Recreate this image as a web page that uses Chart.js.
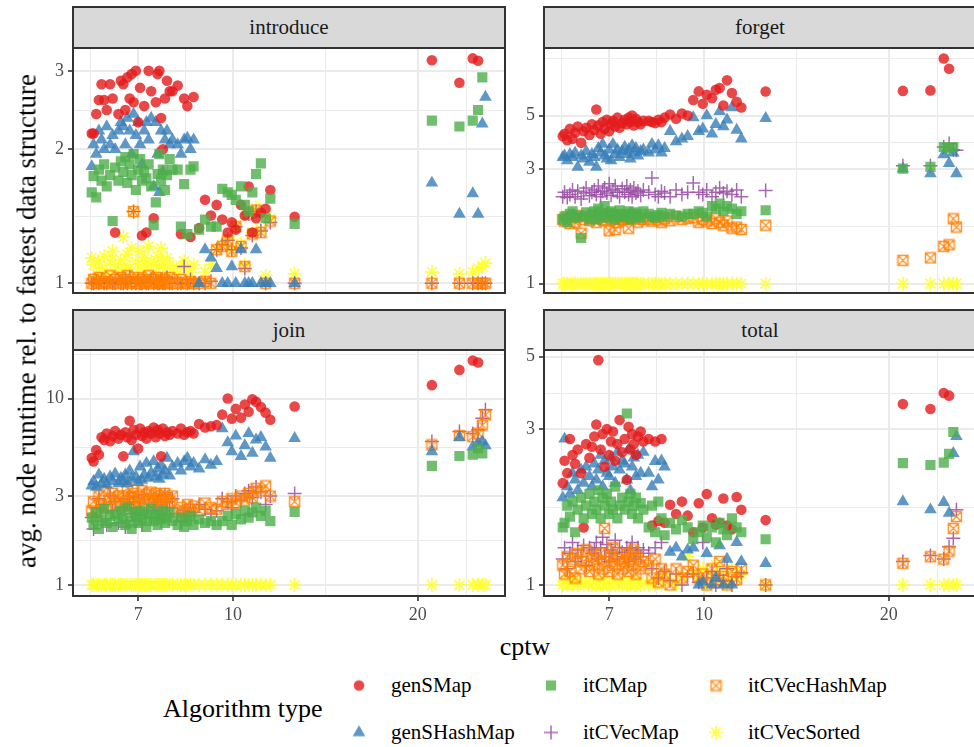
<!DOCTYPE html>
<html>
<head>
<meta charset="utf-8">
<title>avg. node runtime vs cptw</title>
<script src="https://cdn.jsdelivr.net/npm/chart.js@4.4.1/dist/chart.umd.min.js"></script>
<style>
  html, body { margin: 0; padding: 0; background: #fff; overflow: hidden; }
  body { position: relative; width: 974px; height: 747px; font-family: 'Liberation Serif', serif; }
  canvas.panel { position: absolute; }
  .strip { position: absolute; box-sizing: border-box; width: 434px; background: #d9d9d9;
           border: 2px solid #333; color: #1a1a1a; font-size: 21px; text-align: center; }
  .frame { position: absolute; box-sizing: border-box; width: 434px; border: 2px solid #333; pointer-events: none; }
  #ytitle { position: absolute; left: 27px; top: 321px; transform: translate(-50%, -50%) rotate(-90deg);
            white-space: nowrap; font-size: 27px; color: #000; }
  #xtitle { position: absolute; left: 525px; top: 647px; transform: translate(-50%, -50%); font-size: 26px; color: #000; }
  #ltitle { position: absolute; left: 163px; top: 709px; transform: translateY(-50%); font-size: 26px; color: #000; white-space: nowrap; }
  .lkey { position: absolute; display: flex; align-items: center; transform: translateY(-50%); font-size: 21px; color: #000; white-space: nowrap; }
  .lkey canvas { margin-right: 20px; }
</style>
</head>
<body>

<div class="strip" style="left:72px; top:6px; height:43px; line-height:39px;">introduce</div>
<div class="strip" style="left:543px; top:6px; height:43px; line-height:39px;">forget</div>
<div class="strip" style="left:72px; top:309px; height:42px; line-height:38px;">join</div>
<div class="strip" style="left:543px; top:309px; height:42px; line-height:38px;">total</div>

<canvas class="panel" id="introduce"></canvas>
<canvas class="panel" id="forget"></canvas>
<canvas class="panel" id="join"></canvas>
<canvas class="panel" id="total"></canvas>

<div class="frame" style="left:72px; top:47px; height:247px;"></div>
<div class="frame" style="left:543px; top:47px; height:247px;"></div>
<div class="frame" style="left:72px; top:349px; height:248px;"></div>
<div class="frame" style="left:543px; top:349px; height:248px;"></div>

<div id="ytitle">avg. node runtime rel. to fastest data structure</div>
<div id="xtitle">cptw</div>
<div id="ltitle">Algorithm type</div>
<div id="legend"></div>

<script>
'use strict';

// cptw of every benchmark instance (same instances in every panel)
const cptw = [
  5.88, 5.92, 5.98, 6.04, 6.1, 6.16, 6.22, 6.3, 6.36, 6.42, 6.5, 6.56,
  6.62, 6.67, 6.72, 6.78, 6.83, 6.88, 6.94, 7.0, 7.05, 7.1, 7.16, 7.22, 7.28, 7.35,
  7.42, 7.48, 7.53, 7.58, 7.63, 7.68, 7.74, 7.8, 7.88, 7.96,
  8.12, 8.22, 8.32, 8.42, 8.52, 8.62, 8.8, 9.0, 9.2, 9.4,
  9.6, 9.8, 9.95, 10.1, 10.3, 10.45, 10.6, 10.75, 10.9, 11.1, 11.3, 11.5,
  12.6,
  21.1, 23.4, 24.6, 25.1, 25.5, 25.8
];

// introduce
const introduceGenSMap = [
  2.17, 2.17, 2.4, 2.58, 2.8, 2.58, 2.45, 2.8, 2.6, 1.3, 2.4, 2.85,
  2.8, 2.45, 2.9, 2.6, 2.95, 2.55, 3.0, 2.3, 2.75, 1.28, 2.5, 1.3, 3.0, 2.7,
  1.4, 2.55, 2.95, 3.0, 2.35, 2.0, 2.6, 2.85, 2.7, 2.7,
  2.78, 1.29, 2.6, 2.5, 1.27, 2.62, 1.33, 1.54, 1.42, 1.5,
  1.39, 1.3, 1.37, 1.32, 1.5, 1.42, 1.65, 1.3, 1.4, 1.44, 1.47, 1.62,
  1.41,
  3.17, 2.82, 3.2, 3.16, null, null
];
const introduceGenSHashMap = [
  1.83, 2.05, 1.95, 2.2, 2.1, 2.0, 2.25, 2.05, 2.15, 2.0, 2.2, 2.3,
  2.25, 2.05, 2.35, 2.2, 1.95, 2.4, 2.15, 2.3, 2.05, 1.85, 2.2, 2.3, 2.1, 2.35,
  1.65, 2.3, 1.95, 1.6, 2.2, 1.78, 2.1, 2.2, 2.05, 2.1,
  2.05, 1.95, 2.1, 2.12, 2.0, 2.1, 1.0, 1.19, 1.14, 1.08,
  1.0, 1.0, 1.09, 1.0, 1.19, 1.0, 1.0, 1.0, 1.19, 1.0, 1.0, 1.0,
  1.0,
  1.68, 1.43, 1.59, 1.43, 2.28, 2.62
];
const introduceItCMap = [
  1.6, 1.74, 1.56, 1.8, 1.7, 1.85, 1.65, 1.75, 1.38, 1.82, 1.7, 1.88,
  1.78, 1.92, 1.68, 1.85, 1.75, 1.95, 1.62, 1.8, 1.9, 1.7, 1.78, 1.72, 1.85, 1.65,
  1.35, 1.52, 1.76, 1.95, 1.7, 1.8, 1.62, 1.75, 1.9, 1.8,
  1.8, 1.34, 1.67, 1.29, 1.8, 1.83, 1.32, 1.39, 1.34, 1.34,
  1.63, 1.6, 1.58, 1.54, 1.65, 1.5, 1.45, 1.6, 1.76, 1.86, 1.4, 1.55,
  1.36,
  2.32, 2.25, 2.32, 2.45, 2.9, null
];
const introduceItCVecMap = [
  1.0, 1.0, 1.01, 1.0, 1.02, 1.0, 1.0, 1.01, 1.0, 1.0, 1.02, 1.0,
  1.0, 1.01, 1.0, 1.03, 1.0, 1.45, 1.0, 1.02, 1.0, 1.0, 1.01, 1.0, 1.0, 1.02,
  1.0, 1.01, 1.0, 1.0, 1.02, 1.0, 1.0, 1.03, 1.0, 1.0,
  1.0, 1.0, 1.09, 1.0, 1.02, 1.0, 1.0, 1.0, 1.01, 1.19,
  1.22, 1.25, 1.19, 1.34, 1.2, 1.08, 1.43, 1.28, 1.45, 1.31, 1.0, 1.37,
  1.0,
  1.0, 1.0, 1.0, 1.0, 1.0, 1.0
];
const introduceItCVecHashMap = [
  1.0, 1.02, 1.0, 1.03, 1.0, 1.01, 1.0, 1.04, 1.0, 1.02, 1.0, 1.03,
  1.0, 1.02, 1.04, 1.0, 1.01, 1.45, 1.0, 1.03, 1.0, 1.02, 1.0, 1.01, 1.04, 1.0,
  1.02, 1.0, 1.03, 1.0, 1.01, 1.0, 1.02, 1.0, 1.03, 1.0,
  1.0, 1.02, 1.0, 1.0, 1.01, 1.0, 1.0, 1.01, 1.0, 1.19,
  1.21, 1.25, 1.18, 1.34, 1.21, 1.09, 1.43, 1.29, 1.46, 1.3, 1.0, 1.38,
  1.0,
  1.0, 1.0, 1.0, 1.0, 1.0, 1.0
];
const introduceItCVecSorted = [
  1.14, 1.1, 1.05, 1.12, 1.08, 1.15, 1.06, 1.12, 1.18, 1.1, 1.07, 1.13,
  1.27, 1.1, 1.16, 1.08, 1.2, 1.45, 1.12, 1.06, 1.18, 1.1, 1.14, 1.08, 1.21, 1.12,
  1.1, 1.05, 1.15, 1.09, 1.2, 1.12, 1.06, 1.14, 1.1, 1.08,
  1.05, 1.09, 1.12, 1.08, 1.06, 1.1, 1.0, 1.06, 1.1, 1.19,
  1.22, 1.26, 1.19, 1.35, 1.23, 1.1, 1.45, 1.3, 1.48, 1.32, 1.04, 1.4,
  1.05,
  1.06, 1.05, 1.06, 1.08, 1.09, 1.11
];

// forget
const forgetGenSMap = [
  4.1, 4.2, 3.95, 4.4, 4.0, 4.25, 4.5, 3.85, 4.3, 4.45, 4.15, 4.6,
  4.35, 5.3, 4.55, 4.2, 4.7, 4.4, 4.8, 4.3, 4.6, 4.75, 4.5, 4.9, 4.45, 4.65,
  4.8, 4.6, 4.9, 4.7, 5.0, 4.55, 4.85, 4.7, 4.6, 4.75,
  4.75, 4.7, 4.65, 4.8, 4.7, 4.9, 5.05, 4.85, 5.1, 5.0,
  5.8, 6.3, 5.6, 6.1, 5.9, 6.4, 6.5, 5.5, 7.0, 6.2, 5.7, 5.4,
  6.29,
  6.33, 6.36, 8.63, 7.82, null, null
];
const forgetGenSHashMap = [
  3.35, 3.4, 3.25, 3.45, 3.35, 3.5, 3.05, 3.4, 3.3, 3.55, 3.2, 3.45,
  3.35, 3.05, 3.65, 3.5, 3.8, 3.4, 3.3, 3.6, 3.25, 3.8, 3.45, 3.6, 3.35, 3.55,
  3.7, 3.45, 3.6, 3.3, 3.75, 3.5, 3.65, 3.4, 3.55, 3.6,
  3.5, 3.8, 3.6, 3.75, 3.5, 3.65, 4.3, 3.9, 4.0, 4.1,
  4.9, 4.3, 4.4, 5.0, 4.2, 4.6, 5.2, 4.5, 4.8, 5.4, 4.35, 4.0,
  4.87,
  3.0, 2.87, 3.44, 3.16, 3.5, 2.87
];
const forgetItCMap = [
  1.85, 1.9, 1.8, 1.95, 2.0, 1.88, 1.92, 1.55, 1.9, 1.98, 1.85, 1.95,
  2.0, 1.85, 2.05, 1.9, 1.95, 2.1, 1.88, 1.97, 2.0, 1.9, 1.85, 1.95, 2.02, 1.9,
  1.9, 1.95, 2.0, 1.85, 1.92, 1.98, 1.9, 1.95, 1.88, 2.0,
  1.95, 1.9, 1.88, 1.93, 1.97, 1.9, 1.95, 1.92, 1.9, 1.95,
  1.95, 2.0, 1.97, 1.9, 2.1, 2.05, 2.15, 2.0, 2.1, 2.05, 1.95, 2.0,
  2.02,
  3.01, 3.06, 3.7, 3.65, 3.7, null
];
const forgetItCVecMap = [
  2.3, 2.4, 2.28, 2.35, 2.45, 2.3, 2.42, 2.25, 2.38, 2.5, 2.32, 2.4,
  2.45, 2.35, 2.55, 2.3, 2.42, 2.5, 2.38, 2.6, 2.33, 2.45, 2.55, 2.4, 2.3, 2.48,
  2.4, 2.55, 2.35, 2.45, 2.3, 2.5, 2.38, 2.42, 2.33, 2.45,
  2.4, 2.75, 2.35, 2.3, 2.42, 2.38, 2.3, 2.45, 2.35, 2.4,
  2.62, 2.4, 2.35, 2.45, 2.3, 2.4, 2.5, 2.38, 2.42, 2.35, 2.45, 2.3,
  2.44,
  3.09, 3.09, 3.7, 3.83, 3.6, 3.59
];
const forgetItCVecHashMap = [
  1.85, 1.82, 1.9, 1.78, 1.88, 1.8, 1.92, 1.62, 1.85, 1.9, 1.83, 1.87,
  1.9, 1.8, 1.88, 1.95, 1.85, 1.83, 1.9, 1.66, 1.87, 1.92, 1.68, 1.8, 1.88, 1.85,
  1.9, 1.84, 1.7, 1.88, 1.92, 1.86, 1.9, 1.8, 1.87, 1.85,
  1.85, 1.82, 1.88, 1.84, 1.8, 1.86, 1.83, 1.9, 1.85, 1.87,
  1.88, 1.8, 1.85, 1.82, 1.78, 1.86, 1.8, 1.75, 1.82, 1.7, 1.72, 1.68,
  1.75,
  1.25, 1.28, 1.43, 1.45, 1.86, 1.72
];
const forgetItCVecSorted = [
  1, 1, 1, 1, 1, 1, 1, 1, 1, 1, 1, 1,
  1, 1, 1, 1, 1, 1, 1, 1, 1, 1, 1, 1, 1, 1,
  1, 1, 1, 1, 1, 1, 1, 1, 1, 1,
  1, 1, 1, 1, 1, 1, 1, 1, 1, 1,
  1, 1, 1, 1, 1, 1, 1, 1, 1, 1, 1, 1,
  1,
  1, 1, 1, 1, 1, 1
];

// join
const joinGenSMap = [
  4.8, 4.6, 5.3, 5.0, 6.2, 6.0, 6.5, 5.9, 6.3, 6.7, 6.1, 6.4,
  4.9, 6.6, 6.2, 7.6, 6.0, 6.8, 6.4, 5.4, 6.9, 6.3, 6.6, 6.1, 6.7, 6.5,
  7.0, 6.2, 6.8, 6.5, 4.9, 6.9, 6.3, 6.6, 6.4, 6.7,
  6.5, 6.9, 6.4, 6.6, 6.7, 6.5, 7.3, 7.0, 7.1, 7.2,
  8.2, 10.0, 7.8, 8.8, 7.9, 9.3, 8.5, 9.9, 9.6, 9.0, 8.4, 7.7,
  9.06,
  11.8, 14.25, 16.0, 15.6, null, null
];
const joinGenSHashMap = [
  3.4, 3.6, 3.35, 3.9, 3.5, 3.7, 3.45, 3.8, 3.6, 3.95, 3.5, 3.75,
  3.6, 3.9, 3.5, 4.1, 3.7, 5.2, 3.8, 3.55, 4.3, 3.65, 3.9, 4.5, 3.75, 4.0,
  4.6, 3.8, 4.2, 3.7, 4.4, 3.9, 4.1, 4.8, 3.85, 4.3,
  4.5, 4.1, 4.6, 4.8, 4.3, 4.5, 4.2, 4.7, 4.4, 4.6,
  6.9, 5.8, 5.2, 6.3, 4.9, 5.6, 6.5, 5.1, 6.0, 6.2, 5.5, 4.8,
  6.12,
  5.19, 6.2, 5.5, 5.76, 5.87, 5.6
];
const joinItCMap = [
  2.3, 2.1, 2.45, 2.0, 2.25, 2.55, 2.15, 2.35, 2.05, 2.4, 2.2, 2.5,
  2.3, 2.1, 2.6, 2.2, 2.0, 2.45, 2.35, 2.15, 2.5, 2.25, 2.4, 2.05, 2.3, 2.55,
  2.2, 2.4, 2.1, 2.35, 2.25, 2.5, 2.15, 2.3, 2.45, 2.2,
  2.1, 2.3, 2.05, 2.2, 2.35, 2.1, 2.25, 2.15, 2.2, 2.1,
  2.2, 2.35, 2.1, 2.4, 2.25, 2.5, 2.3, 2.45, 2.6, 2.35, 2.5, 2.2,
  2.47,
  4.35, 4.92, 5.0, 5.4, 5.08, null
];
const joinItCVecMap = [
  2.3, 2.0, 2.6, 2.9, 2.2, 2.7, 2.1, 3.0, 2.5, 2.8, 2.15, 2.6,
  2.9, 2.05, 2.7, 3.0, 2.4, 2.8, 2.2, 2.95, 2.6, 2.1, 3.05, 2.5, 2.75, 2.3,
  2.9, 2.6, 2.8, 3.0, 2.7, 2.5, 3.05, 2.8, 2.6, 2.9,
  2.4, 2.2, 2.5, 2.35, 2.6, 2.45, 2.7, 2.55, 2.4, 2.5,
  2.9, 2.8, 2.6, 3.0, 2.85, 3.1, 3.2, 2.95, 3.35, 3.15, 2.7, 3.0,
  3.1,
  5.88, 6.65, 6.5, 6.8, 7.83, 8.7
];
const joinItCVecHashMap = [
  2.5, 2.8, 2.4, 3.0, 2.7, 3.2, 2.6, 2.9, 3.1, 2.75, 3.0, 2.65,
  3.0, 2.8, 3.3, 2.7, 2.95, 3.1, 2.6, 3.0, 2.85, 3.2, 2.75, 3.05, 2.9, 3.15,
  2.8, 3.1, 2.7, 3.0, 2.9, 2.75, 3.1, 2.95, 2.8, 3.0,
  2.5, 2.6, 2.45, 2.7, 2.55, 2.65, 2.5, 2.75, 2.6, 2.55,
  2.8, 2.7, 2.9, 2.75, 3.0, 2.85, 3.1, 2.95, 3.3, 3.2, 3.4, 3.0,
  2.8,
  5.64, 6.33, 6.25, 6.52, 7.2, 8.17
];
const joinItCVecSorted = [
  1, 1, 1, 1, 1, 1, 1, 1, 1, 1, 1, 1,
  1, 1, 1, 1, 1, 1, 1, 1, 1, 1, 1, 1, 1, 1,
  1, 1, 1, 1, 1, 1, 1, 1, 1, 1,
  1, 1, 1, 1, 1, 1, 1, 1, 1, 1,
  1, 1, 1, 1, 1, 1, 1, 1, 1, 1, 1, 1,
  1,
  1, 1, 1, 1, 1, 1
];

// total
const totalGenSMap = [
  2.05, 2.4, 2.2, 2.8, 2.5, 2.35, 2.6, 2.2, 1.5, 2.7, 2.45, 2.65,
  2.85, 3.1, 4.88, 2.6, 2.9, 2.3, 3.0, 2.5, 2.75, 2.95, 2.4, 2.7, 3.2, 2.55,
  2.8, 2.1, 3.05, 2.6, 2.9, 2.7, 2.5, 2.85, 2.95, 2.75,
  2.8, 1.52, 2.75, 1.57, 2.8, 1.55, 1.76, 1.65, 1.8, 1.63,
  1.45, 1.78, 1.5, 1.9, 1.6, 1.53, 1.55, 1.84, 1.52, 1.48, 1.86, 1.7,
  1.58,
  3.58, 3.46, 3.87, 3.8, null, null
];
const totalGenSHashMap = [
  1.85, 2.8, 2.0, 1.9, 2.2, 2.1, 1.95, 2.25, 2.05, 2.3, 2.15, 2.0,
  2.35, 2.1, 2.25, 2.5, 2.0, 2.4, 2.2, 2.15, 2.45, 2.3, 2.05, 2.55, 2.25, 2.4,
  2.35, 2.1, 2.6, 1.95, 2.3, 2.45, 2.15, 2.5, 2.2, 2.55,
  2.2, 2.0, 2.39, 2.1, 2.4, 2.3, 1.26, 1.3, 1.22, 1.28,
  1.3, 1.0, 1.02, 1.25, 1.0, 1.05, 1.32, 1.0, 1.2, 1.0, 1.35, 1.18,
  1.165,
  1.8, 1.7, 1.79, 1.66, 2.53, 2.85
];
const totalItCMap = [
  1.5, 1.55, 1.75, 1.62, 1.8, 1.45, 1.7, 1.85, 1.6, 1.75, 1.9, 1.65,
  1.8, 1.7, 1.95, 1.6, 1.85, 1.75, 1.9, 1.65, 1.8, 1.7, 2.0, 1.6, 1.75, 1.85,
  1.7, 3.35, 1.8, 1.9, 1.65, 1.75, 1.85, 1.6, 1.78, 1.7,
  1.5, 1.75, 1.45, 1.8, 1.6, 1.42, 1.55, 1.48, 1.58, 1.5,
  1.38, 1.45, 1.52, 1.4, 1.5, 1.35, 1.55, 1.48, 1.42, 1.6, 1.5, 1.45,
  1.38,
  2.36, 2.33, 2.37, 2.52, 2.94, null
];
const totalItCVecMap = [
  1.2, 1.3, 1.12, 1.25, 1.35, 1.18, 1.28, 1.22, 1.32, 1.15, 1.3, 1.25,
  1.28, 1.35, 1.2, 1.3, 1.4, 1.22, 1.33, 1.18, 1.28, 1.25, 1.37, 1.2, 1.3, 1.26,
  1.22, 1.3, 1.18, 1.28, 1.35, 1.2, 1.25, 1.3, 1.22, 1.28,
  1.25, 1.12, 1.3, 1.05, 1.35, 1.1, 1.03, 1.08, 1.0, 1.06,
  1.08, 1.02, 1.35, 1.05, 1.1, 1.0, 1.07, 1.03, 1.12, 1.0, 1.06, 1.09,
  1.0,
  1.18, 1.23, 1.2, 1.31, 1.39, 1.7
];
const totalItCVecHashMap = [
  1.15, 1.08, 1.22, 1.1, 1.2, 1.05, 1.25, 1.12, 1.18, 1.28, 1.1, 1.22,
  1.15, 1.2, 1.08, 1.25, 1.12, 1.49, 1.18, 1.1, 1.22, 1.3, 1.15, 1.08, 1.2, 1.12,
  1.18, 1.25, 1.1, 1.2, 1.15, 1.28, 1.08, 1.22, 1.12, 1.18,
  1.15, 1.05, 1.2, 1.02, 1.12, 1.08, 1.0, 1.12, 1.05, 1.1,
  1.15, 1.05, 1.08, 1.0, 1.12, 1.02, 1.18, 1.06, 1.0, 1.1, 1.04, 1.12,
  1.0,
  1.165, 1.22, 1.2, 1.27, 1.49, 1.62
];
const totalItCVecSorted = [
  1.0, 1.02, 1.0, 1.01, 1.0, 1.03, 1.0, 1.01, 1.0, 1.02, 1.0, 1.0,
  1.01, 1.0, 1.02, 1.0, 1.0, 1.03, 1.0, 1.01, 1.0, 1.02, 1.0, 1.01, 1.0, 1.0,
  1.02, 1.0, 1.01, 1.0, 1.03, 1.0, 1.0, 1.02, 1.0, 1.01,
  1.0, 1.02, 1.0, 1.05, 1.0, 1.08, 1.03, 1.0, 1.06, 1.22,
  1.1, 1.05, 1.12, 1.0, 1.08, 1.15, 1.03, 1.1, 1.0, 1.12, 1.05, 1.08,
  1.0,
  1.0, 1.0, 1.0, 1.0, 1.0, 1.0
];

// axis breaks
const xTicks = [7, 10, 20];
const xMinorTicks = [5.85, 8.37, 14.14, 24];
const introduceTicks = [1, 2, 3];
const introduceMinorTicks = [1.41, 2.45];
const forgetTicks = [1, 3, 5];
const forgetMinorTicks = [1.73, 3.87, 8.66];
const joinTicks = [1, 3, 10];
const joinMinorTicks = [1.73, 5.48, 17.3];
const totalTicks = [1, 3, 5];
const totalMinorTicks = [1.73, 3.87];

const algorithms = ['genSMap', 'genSHashMap', 'itCMap', 'itCVecMap', 'itCVecHashMap', 'itCVecSorted'];


// square with a cross through it, for itCVecHashMap
function boxCross(color) {
  const c = document.createElement('canvas');
  c.width = 13;
  c.height = 13;
  const g = c.getContext('2d');
  g.strokeStyle = color;
  g.lineWidth = 1.4;
  g.beginPath();
  g.rect(1.5, 1.5, 10, 10);
  g.moveTo(1.5, 1.5);
  g.lineTo(11.5, 11.5);
  g.moveTo(11.5, 1.5);
  g.lineTo(1.5, 11.5);
  g.stroke();
  return c;
}

const none = 'rgba(0,0,0,0)';
const looks = {
  genSMap:       { shape: 'circle',   radius: 5.3, fill: 'rgba(228,26,28,0.8)',  stroke: none, width: 0 },
  genSHashMap:   { shape: 'triangle', radius: 7.3, fill: 'rgba(55,126,184,0.8)', stroke: none, width: 0 },
  itCMap:        { shape: 'rect',     radius: 7.2, fill: 'rgba(77,175,74,0.8)',  stroke: none, width: 0 },
  itCVecMap:     { shape: 'cross',    radius: 7,   fill: none, stroke: 'rgba(152,78,163,0.85)', width: 1.5 },
  itCVecHashMap: { shape: boxCross('rgba(255,127,0,0.85)'), radius: 6.5, fill: none, stroke: none, width: 0 },
  itCVecSorted:  { shape: 'star',     radius: 7,   fill: none, stroke: 'rgba(255,255,51,0.9)', width: 1.7 }
};

// later entries are drawn on top
const drawOrder = ['itCMap', 'genSMap', 'genSHashMap', 'itCVecHashMap', 'itCVecMap', 'itCVecSorted'];

// where each plotting area sits on the page
const plotBoxes = {
  introduce: { left: 73, top: 48, width: 432, height: 245 },
  forget:    { left: 544, top: 48, width: 432, height: 245 },
  join:      { left: 73, top: 350, width: 432, height: 246 },
  total:     { left: 544, top: 350, width: 432, height: 246 }
};

const panels = [
  { id: 'introduce', bottomAxis: false, yMin: 0.95, yMax: 3.38, ticks: introduceTicks, minor: introduceMinorTicks,
    series: { genSMap: introduceGenSMap, genSHashMap: introduceGenSHashMap, itCMap: introduceItCMap,
              itCVecMap: introduceItCVecMap, itCVecHashMap: introduceItCVecHashMap, itCVecSorted: introduceItCVecSorted } },
  { id: 'forget', bottomAxis: false, yMin: 0.913, yMax: 9.56, ticks: forgetTicks, minor: forgetMinorTicks,
    series: { genSMap: forgetGenSMap, genSHashMap: forgetGenSHashMap, itCMap: forgetItCMap,
              itCVecMap: forgetItCVecMap, itCVecHashMap: forgetItCVecHashMap, itCVecSorted: forgetItCVecSorted } },
  { id: 'join', bottomAxis: true, yMin: 0.873, yMax: 18.26, ticks: joinTicks, minor: joinMinorTicks,
    series: { genSMap: joinGenSMap, genSHashMap: joinGenSHashMap, itCMap: joinItCMap,
              itCVecMap: joinItCVecMap, itCVecHashMap: joinItCVecHashMap, itCVecSorted: joinItCVecSorted } },
  { id: 'total', bottomAxis: true, yMin: 0.925, yMax: 5.25, ticks: totalTicks, minor: totalMinorTicks,
    series: { genSMap: totalGenSMap, genSHashMap: totalGenSHashMap, itCMap: totalItCMap,
              itCVecMap: totalItCVecMap, itCVecHashMap: totalItCVecHashMap, itCVecSorted: totalItCVecSorted } }
];

const tickFont = { family: 'Liberation Serif', size: 18 };
const gridGrey = '#ebebeb';

function breaks(major, minor) {
  return major.concat(minor).sort((a, b) => a - b).map(v => ({ value: v }));
}

function isMajor(ctx, major) {
  return !!ctx.tick && major.includes(ctx.tick.value);
}

function panelConfig(panel) {
  let datasets = drawOrder.map(name => {
    let ys = panel.series[name];
    let points = [];
    for (let i = 0; i < cptw.length; i++) {
      if (ys[i] !== null) {
        points.push({ x: cptw[i], y: ys[i] });
      }
    }
    let look = looks[name];
    return {
      label: name,
      data: points,
      pointStyle: look.shape,
      pointRadius: look.radius,
      pointHoverRadius: look.radius,
      pointBackgroundColor: look.fill,
      pointBorderColor: look.stroke,
      pointBorderWidth: look.width,
      clip: 0
    };
  });

  return {
    type: 'scatter',
    data: { datasets: datasets },
    options: {
      responsive: false,
      maintainAspectRatio: false,
      animation: false,
      events: [],
      devicePixelRatio: 1,
      layout: { padding: 0 },
      plugins: { legend: { display: false }, tooltip: { enabled: false } },
      scales: {
        x: {
          type: 'logarithmic',
          min: 5.48,
          max: 27.8,
          bounds: 'data',
          afterBuildTicks: s => { s.ticks = breaks(xTicks, xMinorTicks); },
          afterFit: s => { s.height = panel.bottomAxis ? 30 : 0; },
          ticks: {
            display: panel.bottomAxis,
            autoSkip: false,
            maxRotation: 0,
            padding: 3,
            font: tickFont,
            color: '#4d4d4d',
            callback: v => xTicks.includes(v) ? String(v) : ''
          },
          grid: {
            color: gridGrey,
            lineWidth: c => isMajor(c, xTicks) ? 2 : 1,
            drawTicks: panel.bottomAxis,
            tickLength: 5,
            tickWidth: 1.6,
            tickColor: c => isMajor(c, xTicks) ? '#333' : none
          },
          border: { display: false }
        },
        y: {
          type: 'logarithmic',
          min: panel.yMin,
          max: panel.yMax,
          bounds: 'data',
          afterBuildTicks: s => { s.ticks = breaks(panel.ticks, panel.minor); },
          afterFit: s => { s.width = 45; },
          ticks: {
            autoSkip: false,
            padding: 4,
            font: tickFont,
            color: '#4d4d4d',
            callback: v => panel.ticks.includes(v) ? String(v) : ''
          },
          grid: {
            color: gridGrey,
            lineWidth: c => isMajor(c, panel.ticks) ? 2 : 1,
            tickLength: 5,
            tickWidth: 1.6,
            tickColor: c => isMajor(c, panel.ticks) ? '#333' : none
          },
          border: { display: false }
        }
      }
    }
  };
}

// draw once, then resize the canvas so the plotting area gets its exact size
function renderPanel(panel) {
  const box = plotBoxes[panel.id];
  const canvas = document.getElementById(panel.id);
  canvas.width = box.width + 45;
  canvas.height = box.height + (panel.bottomAxis ? 30 : 0);

  let chart = new Chart(canvas, panelConfig(panel));
  let area = chart.chartArea;
  let w = canvas.width + Math.round(box.width - (area.right - area.left));
  let h = canvas.height + Math.round(box.height - (area.bottom - area.top));
  if (w !== canvas.width || h !== canvas.height) {
    chart.destroy();
    canvas.width = w;
    canvas.height = h;
    chart = new Chart(canvas, panelConfig(panel));
    area = chart.chartArea;
  }
  canvas.style.left = Math.round(box.left - area.left) + 'px';
  canvas.style.top = Math.round(box.top - area.top) + 'px';
  return chart;
}

panels.forEach(renderPanel);


// legend: two rows, filled column by column
const legendCols = [347, 539, 704];
const legendRows = [685, 732];

function renderLegend() {
  let holder = document.getElementById('legend');
  algorithms.forEach((name, i) => {
    let col = Math.floor(i / 2);
    let row = i % 2;
    let item = document.createElement('div');
    item.className = 'lkey';
    item.style.left = legendCols[col] + 'px';
    item.style.top = legendRows[row] + 'px';

    let key = document.createElement('canvas');
    key.width = 24;
    key.height = 24;
    let g = key.getContext('2d');
    let look = looks[name];
    g.fillStyle = look.fill;
    g.strokeStyle = look.stroke;
    g.lineWidth = look.width;
    Chart.helpers.drawPoint(g, { pointStyle: look.shape, radius: look.radius, rotation: 0, borderWidth: look.width }, 12, 12);

    let label = document.createElement('span');
    label.textContent = name;
    item.appendChild(key);
    item.appendChild(label);
    holder.appendChild(item);
  });
}

renderLegend();
</script>
</body>
</html>
